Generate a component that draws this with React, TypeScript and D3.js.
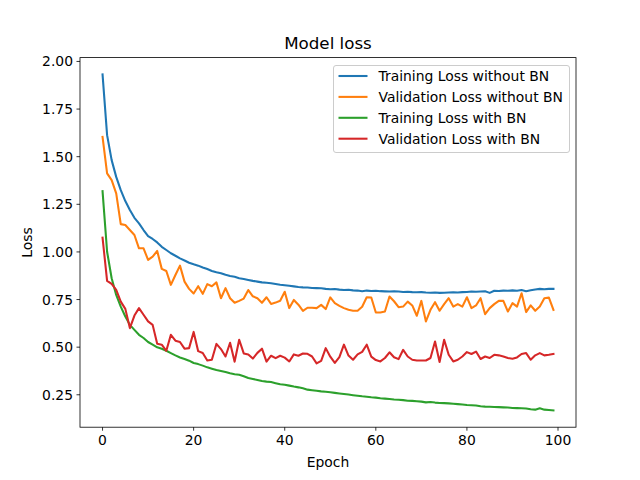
import React from "react";
import * as d3 from "d3";

const epochs: number[] = Array.from({ length: 100 }, (_, i) => i);

const trainNoBN: number[] = [
  1.932, 1.613, 1.482, 1.394, 1.324, 1.267, 1.22, 1.179, 1.15, 1.115,
  1.083, 1.068, 1.05, 1.027, 1.01, 0.993, 0.98, 0.966, 0.955, 0.943,
  0.935, 0.928, 0.918, 0.91, 0.9, 0.893, 0.888, 0.88, 0.874, 0.87,
  0.862, 0.858, 0.853, 0.848, 0.844, 0.84, 0.838, 0.836, 0.832, 0.828,
  0.825, 0.822, 0.819, 0.816, 0.814, 0.813, 0.811, 0.81, 0.809, 0.806,
  0.804, 0.805, 0.802, 0.8, 0.801, 0.798, 0.797, 0.794, 0.797, 0.795,
  0.796, 0.794, 0.793, 0.792, 0.794, 0.792, 0.79, 0.791, 0.789, 0.788,
  0.789, 0.787, 0.786, 0.787, 0.785, 0.786, 0.787, 0.788, 0.787, 0.789,
  0.79, 0.792, 0.791, 0.792, 0.793, 0.785, 0.796, 0.795, 0.797, 0.796,
  0.798, 0.796, 0.8, 0.794, 0.799, 0.803, 0.806, 0.804, 0.806, 0.806,
];

const valNoBN: number[] = [
  1.604, 1.412, 1.377, 1.307, 1.146, 1.141, 1.115, 1.089, 1.019, 1.019,
  0.958, 0.975, 1.005, 0.911, 0.9, 0.827, 0.879, 0.928, 0.844, 0.806,
  0.782, 0.82, 0.78, 0.831, 0.82, 0.84, 0.757, 0.81, 0.757, 0.733,
  0.743, 0.755, 0.8, 0.767, 0.757, 0.733, 0.762, 0.727, 0.734, 0.744,
  0.791, 0.705, 0.748, 0.723, 0.69, 0.707, 0.707, 0.705, 0.722, 0.7,
  0.761, 0.731, 0.717, 0.705, 0.696, 0.691, 0.691, 0.712, 0.762, 0.761,
  0.682, 0.682, 0.687, 0.766, 0.741, 0.71, 0.713, 0.739, 0.719, 0.665,
  0.743, 0.635, 0.696, 0.736, 0.691, 0.726, 0.757, 0.713, 0.726, 0.713,
  0.762, 0.705, 0.719, 0.757, 0.673, 0.705, 0.726, 0.743, 0.743, 0.687,
  0.731, 0.713, 0.783, 0.684, 0.719, 0.691, 0.713, 0.757, 0.76, 0.696,
];

const trainBN: number[] = [
  1.319, 1.001, 0.862, 0.774, 0.713, 0.661, 0.617, 0.591, 0.565, 0.548,
  0.527, 0.513, 0.499, 0.492, 0.481, 0.469, 0.457, 0.446, 0.438, 0.429,
  0.417, 0.411, 0.403, 0.394, 0.387, 0.38, 0.375, 0.37, 0.363, 0.358,
  0.355, 0.347, 0.338, 0.333, 0.328, 0.322, 0.319, 0.317, 0.311, 0.305,
  0.303, 0.298, 0.293, 0.289, 0.284, 0.277, 0.274, 0.271, 0.268, 0.266,
  0.263, 0.26, 0.257, 0.254, 0.251, 0.248, 0.245, 0.242, 0.24, 0.237,
  0.235, 0.232, 0.23, 0.228, 0.225, 0.224, 0.222, 0.219, 0.218, 0.216,
  0.214, 0.21, 0.212, 0.209, 0.207, 0.206, 0.205, 0.203, 0.201, 0.199,
  0.196, 0.195, 0.194, 0.19, 0.188, 0.187, 0.186, 0.185, 0.184, 0.183,
  0.181, 0.18, 0.179, 0.178, 0.174, 0.172, 0.179, 0.172, 0.17, 0.168,
];

const valBN: number[] = [
  1.075, 0.848, 0.832, 0.801, 0.739, 0.701, 0.6, 0.666, 0.705, 0.67,
  0.635, 0.617, 0.518, 0.513, 0.481, 0.565, 0.534, 0.527, 0.492, 0.495,
  0.58, 0.479, 0.469, 0.43, 0.434, 0.517, 0.49, 0.451, 0.523, 0.424,
  0.539, 0.467, 0.462, 0.44, 0.47, 0.492, 0.424, 0.455, 0.442, 0.455,
  0.445, 0.425, 0.462, 0.455, 0.467, 0.465, 0.451, 0.415, 0.428, 0.495,
  0.45, 0.417, 0.448, 0.513, 0.456, 0.434, 0.462, 0.475, 0.513, 0.45,
  0.432, 0.425, 0.443, 0.473, 0.447, 0.437, 0.486, 0.451, 0.434, 0.43,
  0.43, 0.43, 0.443, 0.53, 0.422, 0.539, 0.46, 0.425, 0.434, 0.451,
  0.474, 0.464, 0.477, 0.438, 0.451, 0.443, 0.46, 0.457, 0.451, 0.443,
  0.439, 0.446, 0.464, 0.469, 0.434, 0.457, 0.469, 0.457, 0.46, 0.464,
];

const seriesNames: string[] = [
  "Training Loss without BN",
  "Validation Loss without BN",
  "Training Loss with BN",
  "Validation Loss with BN",
];
const seriesColors: string[] = ["#1f77b4", "#ff7f0e", "#2ca02c", "#d62728"];
const xTicks: number[] = [0, 20, 40, 60, 80, 100];
const yTicks: number[] = [0.25, 0.5, 0.75, 1.0, 1.25, 1.5, 1.75, 2.0];

const W = 640;
const H = 480;
const L = 80;
const R = 576;
const T = 57.6;
const B = 427.2;
const FONT = "DejaVu Sans, sans-serif";

export default function App() {
  const allSeries = [trainNoBN, valNoBN, trainBN, valBN];
  const allVals = allSeries.flat();
  const yMin = d3.min(allVals) as number;
  const yMax = d3.max(allVals) as number;
  const yPad = (yMax - yMin) * 0.05;
  const xPad = 99 * 0.05;

  const x = d3.scaleLinear().domain([-xPad, 99 + xPad]).range([L, R]);
  const y = d3.scaleLinear().domain([yMin - yPad, yMax + yPad]).range([B, T]);

  const line = d3
    .line<number>()
    .x((_, i) => x(epochs[i]))
    .y((d) => y(d));

  const legX = 333.5;
  const legY = 65.5;
  const legW = 236;
  const legH = 87;
  const rowH = 20.9;

  return (
    <svg
      width={W}
      height={H}
      style={{ position: "absolute", left: 0, top: 0, background: "#fff" }}
      fontFamily={FONT}
    >
      <rect x={0} y={0} width={W} height={H} fill="#fff" />
      <defs>
        <clipPath id="plotclip">
          <rect x={L} y={T} width={R - L} height={B - T} />
        </clipPath>
      </defs>
      <g clipPath="url(#plotclip)">
        {allSeries.map((s, k) => (
          <path
            key={k}
            d={line(s) || ""}
            fill="none"
            stroke={seriesColors[k]}
            strokeWidth={2.08}
            strokeLinejoin="round"
            strokeLinecap="square"
          />
        ))}
      </g>
      {/* spines */}
      <rect x={L} y={T} width={R - L} height={B - T} fill="none" stroke="#000" strokeWidth={0.8} />
      {/* x ticks */}
      {xTicks.map((t) => (
        <g key={"x" + t}>
          <line x1={x(t)} x2={x(t)} y1={B} y2={B + 3.5} stroke="#000" strokeWidth={0.8} />
          <text x={x(t)} y={B + 18} textAnchor="middle" fontSize={13.9} fill="#000">
            {t}
          </text>
        </g>
      ))}
      {/* y ticks */}
      {yTicks.map((t) => (
        <g key={"y" + t}>
          <line x1={L - 3.5} x2={L} y1={y(t)} y2={y(t)} stroke="#000" strokeWidth={0.8} />
          <text x={L - 7} y={y(t) + 5} textAnchor="end" fontSize={13.9} fill="#000">
            {t.toFixed(2)}
          </text>
        </g>
      ))}
      <text x={(L + R) / 2} y={467} textAnchor="middle" fontSize={13.9} fill="#000">
        Epoch
      </text>
      <text
        transform={`translate(32, ${(T + B) / 2}) rotate(-90)`}
        textAnchor="middle"
        fontSize={13.9}
        fill="#000"
      >
        Loss
      </text>
      <text x={(L + R) / 2} y={49} textAnchor="middle" fontSize={16.7} fill="#000">
        Model loss
      </text>
      {/* legend */}
      <rect
        x={legX}
        y={legY}
        width={legW}
        height={legH}
        rx={2.5}
        fill="#fff"
        fillOpacity={0.8}
        stroke="#cccccc"
        strokeWidth={1}
      />
      {seriesNames.map((n, k) => {
        const cy = 76 + k * rowH;
        return (
          <g key={n}>
            <line x1={338.5} x2={367.5} y1={cy} y2={cy} stroke={seriesColors[k]} strokeWidth={2.08} />
            <text x={378.5} y={cy + 5} fontSize={13.9} fill="#000">
              {n}
            </text>
          </g>
        );
      })}
    </svg>
  );
}
